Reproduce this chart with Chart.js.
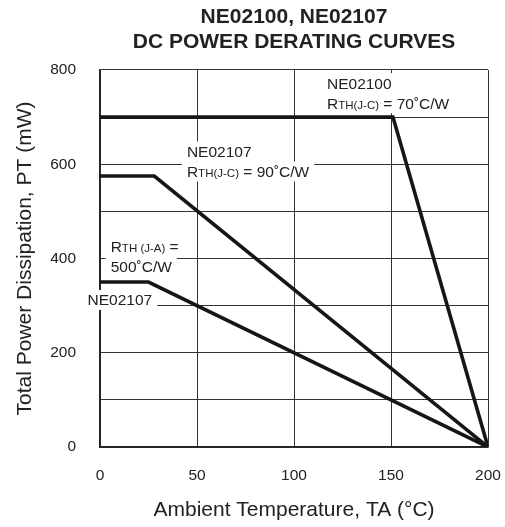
<!DOCTYPE html>
<html>
<head>
<meta charset="utf-8">
<script src="https://cdn.jsdelivr.net/npm/chart.js@4.4.0/dist/chart.umd.min.js"></script>
<style>
  html, body { margin: 0; padding: 0; background: #fff; }
</style>
</head>
<body>
<canvas id="myChart" width="505" height="527"></canvas>
<script>
// curve data
var temps100 = [0, 151, 200];
var power100 = [700, 700, 0];
var temps107jc = [0, 28, 200];
var power107jc = [575, 575, 0];
var temps107ja = [0, 25, 200];
var power107ja = [350, 350, 0];

var xTicks = [0, 50, 100, 150, 200];
var yGrid = [0, 100, 200, 300, 400, 500, 600, 700, 800];
var yLabels = [0, 200, 400, 600, 800];

var titleLines = ['NE02100, NE02107', 'DC POWER DERATING CURVES'];
var xTitle = 'Ambient Temperature, TA (°C)';
var yTitle = 'Total Power Dissipation, PT (mW)';

var FONT = '"Liberation Sans", Arial, sans-serif';
var INK = '#222';
var LINE = '#161616';

// text notes on the plot, [text, big?] segments per line
var notes = [
  { x: 117, y: 772, lines: [[['NE02100', 1]], [['R', 1], ['TH(J-C)', 0], [' = 70˚C/W', 1]]] },
  { x: 44.8, y: 627, lines: [[['NE02107', 1]], [['R', 1], ['TH(J-C)', 0], [' = 90˚C/W', 1]]] },
  { x: 5.5, y: 426, lines: [[['R', 1], ['TH (J-A)', 0], [' =', 1]], [['500˚C/W', 1]]] },
  { x: -6.4, y: 312, lines: [[['NE02107', 1]]] }
];

function toPoints(xs, ys) {
  var pts = [];
  for (var i = 0; i < xs.length; i++) pts.push({ x: xs[i], y: ys[i] });
  return pts;
}

function segFont(big) {
  return (big ? '15.5px ' : '11.5px ') + FONT;
}

var notePlugin = {
  id: 'notes',
  beforeDatasetsDraw: function (chart) {
    var ctx = chart.ctx;
    var xs = chart.scales.x, ys = chart.scales.y;
    ctx.save();
    notes.forEach(function (n) {
      var left = xs.getPixelForValue(n.x);
      var top = ys.getPixelForValue(n.y);
      n.lines.forEach(function (line, i) {
        var cy = top + i * 20;
        var w = 0;
        line.forEach(function (seg) {
          ctx.font = segFont(seg[1]);
          w += ctx.measureText(seg[0]).width;
        });
        // white patch hides grid lines behind the text
        ctx.fillStyle = '#fff';
        ctx.fillRect(left - 5, cy - 10, w + 10, 20);
        ctx.fillStyle = INK;
        ctx.textBaseline = 'alphabetic';
        ctx.textAlign = 'left';
        var x = left;
        line.forEach(function (seg) {
          ctx.font = segFont(seg[1]);
          ctx.fillText(seg[0], x, cy + 5.5);
          x += ctx.measureText(seg[0]).width;
        });
      });
    });
    ctx.restore();
  }
};

function curve(label, xs, ys) {
  return {
    label: label,
    data: toPoints(xs, ys),
    borderColor: LINE,
    borderWidth: 3.6,
    pointRadius: 0,
    tension: 0,
    fill: false
  };
}

Chart.defaults.font.family = FONT;
Chart.defaults.color = INK;

var chart = new Chart(document.getElementById('myChart'), {
  type: 'line',
  data: {
    datasets: [
      curve('NE02100', temps100, power100),
      curve('NE02107 J-C', temps107jc, power107jc),
      curve('NE02107 J-A', temps107ja, power107ja)
    ]
  },
  options: {
    responsive: false,
    animation: false,
    devicePixelRatio: 1,
    layout: { padding: { left: 0, right: 17, top: 0, bottom: 0 } },
    plugins: {
      legend: { display: false },
      tooltip: { enabled: false },
      title: {
        display: true,
        text: titleLines,
        fullSize: false,
        color: INK,
        font: { size: 21, weight: 'bold', lineHeight: 1.19 },
        padding: { top: 4.5, bottom: 15.5 }
      }
    },
    scales: {
      x: {
        type: 'linear',
        min: 0,
        max: 200,
        afterBuildTicks: function (s) {
          s.ticks = xTicks.map(function (v) { return { value: v }; });
        },
        afterFit: function (s) {
          s.height = 80;
          s.paddingLeft = 0;
          s.paddingRight = 0;
        },
        grid: { color: '#333', lineWidth: 1, drawTicks: false },
        border: { color: '#222', width: 1.6 },
        ticks: { padding: 19, maxRotation: 0, font: { size: 15.5 }, color: INK },
        title: {
          display: true,
          text: xTitle,
          color: INK,
          font: { size: 21 },
          padding: { top: 0, bottom: 4.4 }
        }
      },
      y: {
        type: 'linear',
        min: 0,
        max: 800,
        afterBuildTicks: function (s) {
          s.ticks = yGrid.map(function (v) { return { value: v }; });
        },
        afterFit: function (s) {
          s.width = 100;
          s.paddingTop = 0;
          s.paddingBottom = 0;
        },
        grid: { color: '#333', lineWidth: 1, drawTicks: false },
        border: { color: '#222', width: 1.6 },
        ticks: {
          padding: 24,
          font: { size: 15.5 },
          color: INK,
          callback: function (v) { return yLabels.indexOf(v) >= 0 ? String(v) : ''; }
        },
        title: {
          display: true,
          text: yTitle,
          color: INK,
          font: { size: 21 },
          padding: { top: 12.4, bottom: 0 }
        }
      }
    }
  },
  plugins: [notePlugin]
});
</script>
</body>
</html>
